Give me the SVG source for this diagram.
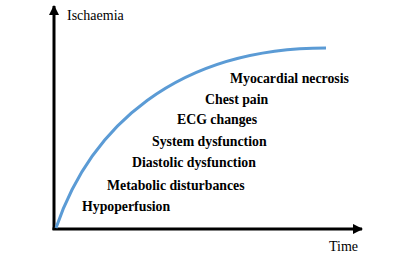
<svg xmlns="http://www.w3.org/2000/svg" width="419" height="259" viewBox="0 0 419 259">
<style>
.lbl{font-family:"Liberation Serif","Times New Roman",serif;font-size:13.8px;font-weight:bold;fill:#000}
.ax{font-family:"Liberation Serif","Times New Roman",serif;font-size:14px;fill:#000}
.axis{stroke:#000;stroke-width:3;fill:none}
</style>
<defs>
<marker id="ah" viewBox="0 0 10 10" refX="9" refY="5" markerWidth="3.5" markerHeight="3.5" orient="auto" markerUnits="strokeWidth">
<path d="M0,0 L10,5 L0,10 z" fill="#000"/>
</marker>
</defs>
<rect width="419" height="259" fill="#fff"/>
<g id="connectors">
<path class="axis" d="M54,230 L54,6" marker-end="url(#ah)"/>
<path class="axis" d="M52.5,229 L362,229" marker-end="url(#ah)"/>
<path d="M56,228 C90,128 175,48 326,48" stroke="#5B9BD5" stroke-width="3" fill="none"/>
</g>
<g id="axis-labels">
<text class="ax" x="67" y="20">Ischaemia</text>
<text class="ax" x="329" y="251">Time</text>
</g>
<g id="node-necrosis"><text class="lbl" x="230" y="83">Myocardial necrosis</text></g>
<g id="node-chest"><text class="lbl" x="205" y="104">Chest pain</text></g>
<g id="node-ecg"><text class="lbl" x="177" y="124">ECG changes</text></g>
<g id="node-system"><text class="lbl" x="152" y="146">System dysfunction</text></g>
<g id="node-diastolic"><text class="lbl" x="132" y="167">Diastolic dysfunction</text></g>
<g id="node-metabolic"><text class="lbl" x="107" y="190">Metabolic disturbances</text></g>
<g id="node-hypo"><text class="lbl" x="82" y="211">Hypoperfusion</text></g>
</svg>
